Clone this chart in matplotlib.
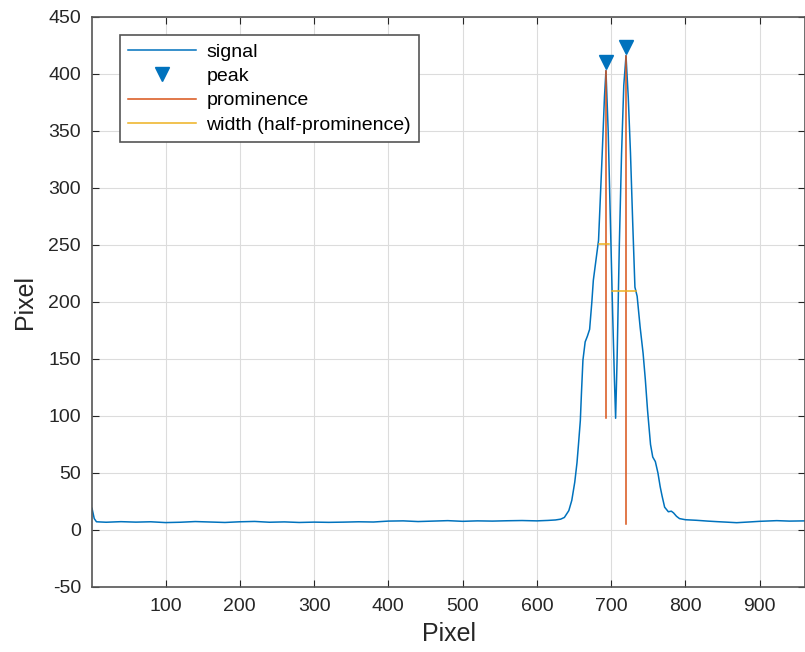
import matplotlib
matplotlib.use("Agg")
import matplotlib.pyplot as plt
import matplotlib.transforms as mtransforms

plt.rcParams['font.family'] = ['Liberation Sans', 'DejaVu Sans']
plt.rcParams['axes.unicode_minus'] = False

# signal (pixel index, intensity)
sig_x = [1, 4, 7, 20, 40, 60, 80, 100, 120, 140, 160, 180, 200, 220, 240, 260,
         280, 300, 320, 340, 360, 380, 400, 420, 440, 460, 480, 500, 520, 540,
         560, 580, 600, 615, 625, 632, 637, 643, 647, 651, 654, 656, 658.5, 660,
         662, 665, 668, 671, 674, 676, 679, 683, 686, 688, 691, 693,
         696, 699, 702, 704.5, 706, 708, 711, 714, 717, 720,
         723, 726, 729, 732, 735, 739, 743, 746, 749, 753, 756, 759.5, 763, 766,
         768.5, 772, 777, 781, 784, 788, 792, 800, 815, 830, 843, 855, 869, 885,
         900, 923, 940, 961]
sig_y = [19, 10, 7.2, 6.8, 7.3, 6.9, 7.2, 6.5, 6.8, 7.4, 7.0, 6.6, 7.2, 7.5,
         6.8, 7.1, 6.6, 6.9, 6.7, 6.9, 7.2, 7.0, 7.8, 8.0, 7.4, 7.8, 8.2, 7.6,
         8.0, 7.8, 8.1, 8.3, 8.0, 8.4, 8.8, 9.5, 11, 17, 26, 42, 59, 75, 96, 120,
         149, 165, 170, 176, 200, 219, 234, 254, 300, 331, 380, 403,
         350, 270, 190, 130, 98, 150, 250, 330, 390, 416,
         380, 331, 270, 213, 205, 178, 155, 132, 105, 75, 64, 60, 50, 38,
         30, 20, 16, 16.5, 15, 12, 10, 9, 8.5, 7.8, 7.3, 6.9, 6.4, 7.0,
         7.6, 8.2, 7.8, 8.0]

# detected peaks
peak_x = [693, 720]
peak_y = [403, 416]
# prominence: lower end of each vertical line
prom_base = [98, 5]
# width at half prominence
width_y = [250.5, 210]
width_left = [683, 701]
width_right = [697, 733]

blue = '#0072BD'
orange = '#D95319'
yellow = '#EDB120'

fig = plt.figure(figsize=(8.05, 6.52), dpi=100)
ax = fig.add_axes([0.1143, 0.0997, 0.8857, 0.8743])

ax.plot(sig_x, sig_y, color=blue, lw=1.1, label='signal')
# triangles sit just above the peak, as MATLAB's findpeaks draws them
tri = mtransforms.offset_copy(ax.transData, fig=fig, x=0, y=6, units='points')
ax.plot(peak_x, peak_y, 'v', color=blue, ms=10, transform=tri, label='peak',
        linestyle='none')
for i in range(len(peak_x)):
    ax.plot([peak_x[i], peak_x[i]], [prom_base[i], peak_y[i]], color=orange,
            lw=1.1, label='prominence' if i == 0 else None)
for i in range(len(peak_x)):
    ax.plot([width_left[i], width_right[i]], [width_y[i], width_y[i]], color=yellow,
            lw=1.1, label='width (half-prominence)' if i == 0 else None)

ax.set_xlim(1, 961)
ax.set_ylim(-50, 450)
ax.set_xticks(range(100, 1000, 100))
ax.set_yticks(range(-50, 451, 50))
ax.grid(True, color='#dcdcdc', lw=0.8)
ax.set_axisbelow(True)
ax.tick_params(direction='in', top=True, right=True, labelsize=14, colors='#262626',
               length=5)
ax.tick_params(axis='x', pad=8)
ax.tick_params(axis='y', pad=8)
for s in ax.spines.values():
    s.set_color('#555555')
    s.set_linewidth(1.2)
ax.set_xlabel('Pixel', fontsize=18, color='#262626', labelpad=5)
ax.set_ylabel('Pixel', fontsize=18, color='#262626', labelpad=8)

leg = ax.legend(loc='upper left', bbox_to_anchor=(0.039, 0.968), borderaxespad=0,
                fontsize=14, handlelength=3.5, fancybox=False, framealpha=1,
                edgecolor='#555555', labelspacing=0.35, handletextpad=0.55,
                borderpad=0.4)
leg.get_frame().set_linewidth(1.2)

fig.savefig('out.png', dpi=100)
